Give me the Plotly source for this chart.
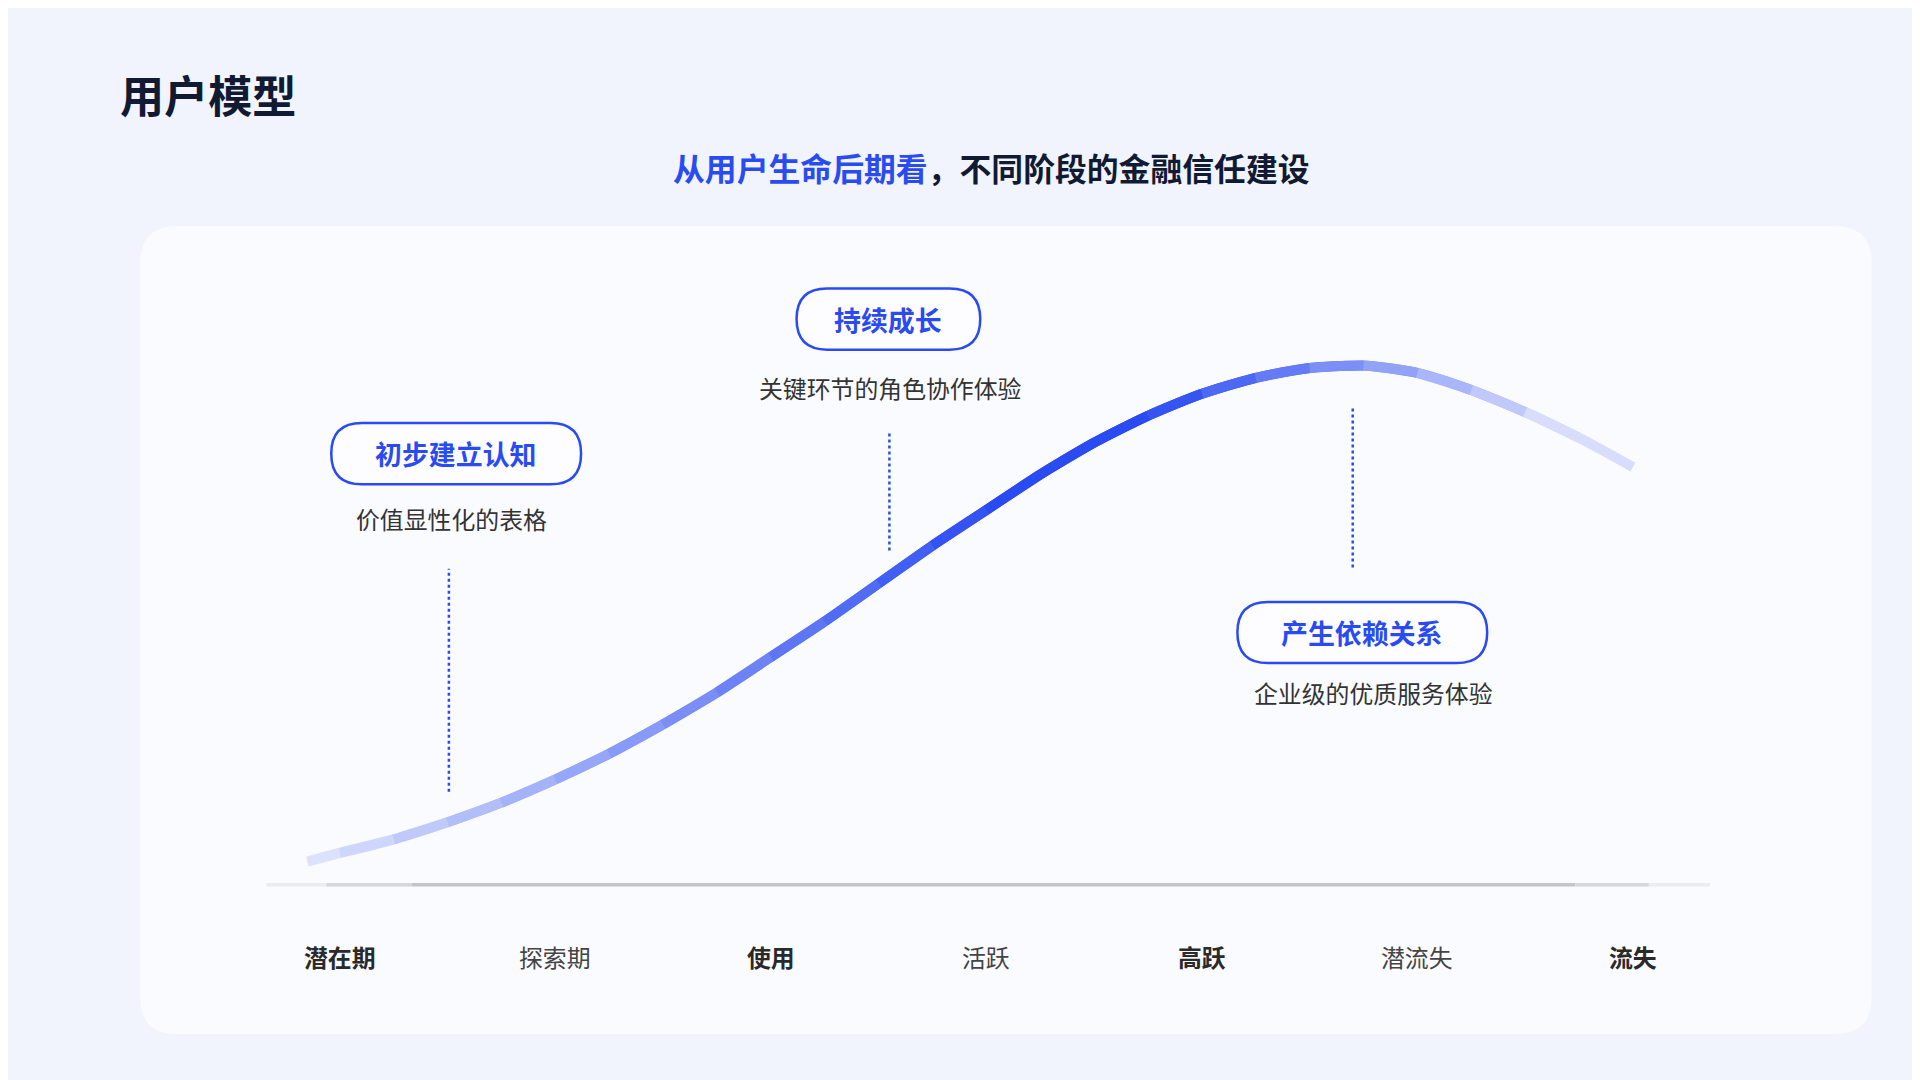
import plotly.graph_objects as go

categories = ["潜在期", "探索期", "使用", "活跃", "高跃", "潜流失", "流失"]
cat_bold = [True, False, True, False, True, False, True]
curve_x = [-0.15, 0, 0.25, 0.5, 0.75, 1, 1.25, 1.5, 1.75, 2, 2.25, 2.5, 2.75, 3, 3.25,
           3.5, 3.75, 4, 4.25, 4.5, 4.75, 5, 5.25, 5.5, 5.75, 6]
curve_y = [19, 26, 37, 51, 67, 86, 107, 131, 157, 186, 215, 246, 277, 306, 335,
           361, 383, 401, 414, 422, 424, 418, 404, 386, 365, 341]
stage_titles = ["初步建立认知", "持续成长", "产生依赖关系"]
stage_descs = ["价值显性化的表格", "关键环节的角色协作体验", "企业级的优质服务体验"]
guide_x = [0.506, 2.55, 4.70]
guide_y0 = [76, 273, 259]
guide_y1 = [258, 370, 390]

W, H = 1568.0, 882.0
S = 1920 / W
FONT = "Noto Sans CJK SC"
BLUE = "#2b4bf2"

def px(x): return x / W
def py(y): return 1 - y / H

fig = go.Figure()

def mix(c1, c2, t):
    return "rgb(%d,%d,%d)" % tuple(int(a + (b - a) * t) for a, b in zip(c1, c2))
light = (236, 239, 253)
blue = (43, 75, 242)
n = len(curve_x)
for i in range(n - 1):
    xm = (curve_x[i] + curve_x[i + 1]) / 2
    if xm < 3.3:
        t = max(0, min(1, (xm + 0.15) / 3.45))
    else:
        t = max(0, min(1, 1 - (xm - 4.0) / 2.1))
    j0 = max(0, i - 1) if i > 0 else 0
    fig.add_trace(go.Scatter(x=curve_x[j0:i + 2], y=curve_y[j0:i + 2], mode="lines",
                             line=dict(color=mix(light, blue, t), width=10, shape="spline"),
                             hoverinfo="skip", showlegend=False))

for gx, a, b in zip(guide_x, guide_y0, guide_y1):
    fig.add_trace(go.Scatter(x=[gx, gx], y=[a, b], mode="lines",
                             line=dict(color=BLUE, width=2.5, dash="dot"),
                             hoverinfo="skip", showlegend=False))

shapes = []
def rrect(x0, y0, x1, y1, r, **kw):
    X0, X1 = px(x0), px(x1)
    Y0, Y1 = py(y0), py(y1)
    rx, ry = r / W, r / H
    path = (f"M{X0+rx},{Y0} L{X1-rx},{Y0} Q{X1},{Y0} {X1},{Y0-ry} "
            f"L{X1},{Y1+ry} Q{X1},{Y1} {X1-rx},{Y1} L{X0+rx},{Y1} "
            f"Q{X0},{Y1} {X0},{Y1+ry} L{X0},{Y0-ry} Q{X0},{Y0} {X0+rx},{Y0} Z")
    return dict(type="path", xref="paper", yref="paper", path=path, **kw)

shapes.append(rrect(108, 178, 1522, 838, 30, fillcolor="rgba(250,251,255,0.85)",
                    line=dict(width=0), layer="below"))
segs = [(211, 260, "#ececf0"), (260, 330, "#d6d6db"), (330, 1280, "#c4c4c9"),
        (1280, 1340, "#d6d6db"), (1340, 1390, "#ececf0")]
for a, b, c in segs:
    shapes.append(dict(type="line", xref="paper", yref="paper", x0=px(a), x1=px(b),
                       y0=py(716), y1=py(716), line=dict(color=c, width=3.5)))

pills = [(366, 364, 204), (719, 254, 150), (1106, 510, 204)]
for cx, cy, w in pills:
    shapes.append(rrect(cx - w / 2, cy - 25, cx + w / 2, cy + 25, 25,
                        fillcolor="rgba(255,255,255,0.6)", line=dict(color=BLUE, width=2.5)))

ann = []
ann.append(dict(x=px(90), y=py(70), xref="paper", yref="paper", xanchor="left", yanchor="middle",
                text="<b>用户模型</b>", showarrow=False,
                font=dict(family=FONT, size=36 * S, color="#111a33")))
ann.append(dict(x=px(803), y=py(130), xref="paper", yref="paper", xanchor="center", yanchor="middle",
                text="<b><span style='color:#2b4bf2'>从用户生命后期看</span>，不同阶段的金融信任建设</b>",
                showarrow=False, font=dict(family=FONT, size=26 * S, color="#111a33")))
desc_pos = [(362, 417), (721, 310), (1115, 559)]
for (cx, cy, w), t, d, (dx, dy) in zip(pills, stage_titles, stage_descs, desc_pos):
    ann.append(dict(x=px(cx), y=py(cy), xref="paper", yref="paper", text=f"<b>{t}</b>",
                    xanchor="center", yanchor="middle",
                    showarrow=False, font=dict(family=FONT, size=22 * S, color=BLUE)))
    ann.append(dict(x=px(dx), y=py(dy), xref="paper", yref="paper", text=d,
                    xanchor="center", yanchor="middle",
                    showarrow=False, font=dict(family=FONT, size=19.5 * S, color="#333333")))
for i, (c, b) in enumerate(zip(categories, cat_bold)):
    ann.append(dict(x=i, y=py(775), xref="x", yref="paper", showarrow=False,
                    xanchor="center", yanchor="middle",
                    text=f"<b>{c}</b>" if b else c,
                    font=dict(family=FONT, size=19.5 * S, color="#2a2a2a" if b else "#444444")))

fig.update_layout(
    width=1920, height=1080, margin=dict(l=0, r=0, t=0, b=0),
    paper_bgcolor="#f1f4fd", plot_bgcolor="rgba(0,0,0,0)",
    shapes=shapes, annotations=ann,
    xaxis=dict(range=[-0.5, 6.5], domain=[183 / W, 1415 / W], visible=False),
    yaxis=dict(range=[0, 460], domain=[(H - 716) / H, (H - 256) / H], visible=False),
    font=dict(family=FONT),
)
fig.write_html("out.html")
